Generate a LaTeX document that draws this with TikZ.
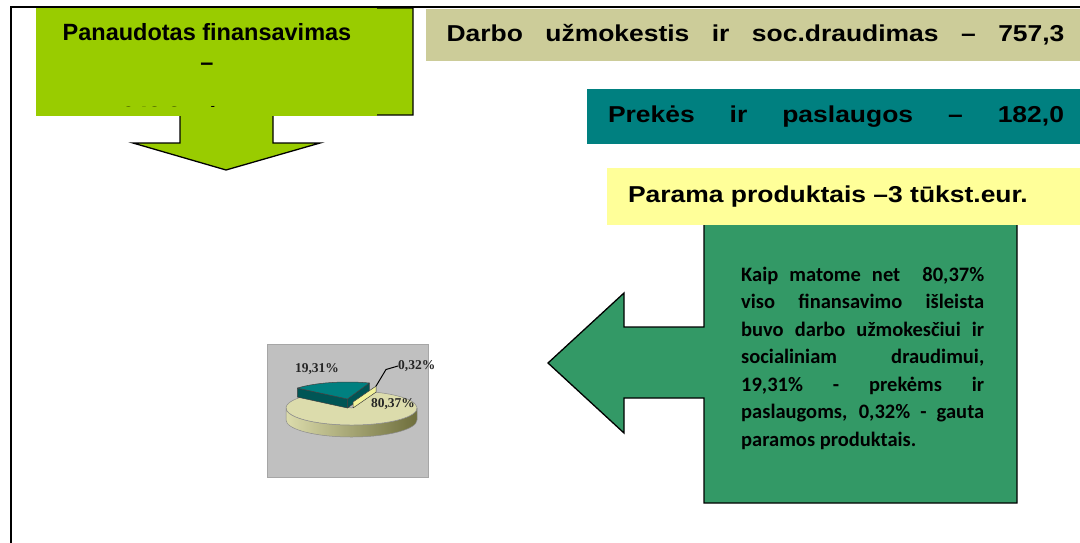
\documentclass[tikz,border=0pt]{standalone}
\usepackage{fontspec}
\setmainfont{Liberation Sans}
\newfontfamily\widesans[FakeStretch=1.15]{Liberation Sans}
\newfontfamily\notefont{Carlito}
\newfontfamily\piefont{Liberation Serif}
\usetikzlibrary{calc}
\definecolor{limegr}{HTML}{99CC00}
\definecolor{tanbox}{HTML}{CCCC99}
\definecolor{tealbox}{HTML}{008080}
\definecolor{paleyel}{HTML}{FFFF99}
\definecolor{seagr}{HTML}{339966}
\definecolor{chartbg}{HTML}{C0C0C0}
\definecolor{pietop}{HTML}{DCDCAC}
\definecolor{pieside}{HTML}{6E6E3C}
\definecolor{tealdark}{HTML}{005555}

\begin{document}
\begin{tikzpicture}[x=1pt, y=-1pt,
    bar/.style={inner sep=0pt, text height=17pt, text depth=5pt,
      font=\widesans\bfseries\fontsize{23}{28}\selectfont},
    outl/.style={draw=black, line width=1.3pt, line join=miter},
    pcut/.style={draw=black!75, line width=0.5pt, line join=round},
    pct/.style={font=\piefont\bfseries\fontsize{13.5}{15}\selectfont, text=black!85, inner sep=0pt}]

\useasboundingbox (0,0) rectangle (1080,542);

% total, with the arrow pointing down
\draw[outl, fill=limegr] (37,8) -- (413,8) -- (413,115) -- (273,115) -- (273,143) -- (320,143)
  -- (226,170) -- (133,143) -- (180,143) -- (180,115) -- (37,115) -- cycle;
\node[fill=limegr, minimum width=341, minimum height=109, inner sep=0pt] (total) at (206.5,61.5) {};
\begin{scope}
  \clip (37,8) rectangle (377,106);
  \node[anchor=north, inner sep=0pt, align=center, font=\bfseries\fontsize{23.5}{30}\selectfont]
    (totaltxt) at (207,23) {Panaudotas finansavimas\\–\\[23pt]942,3 tūkst.eur.};
\end{scope}

% the three parts
\node[bar, fill=tanbox, minimum width=659, minimum height=52] (wages) at (755.5,35)
  {\makebox[618pt]{Darbo\hfill užmokestis\hfill ir\hfill soc.draudimas\hfill –\hfill 757,3}};
\node[bar, fill=tealbox, minimum width=498, minimum height=55] (goods) at (836,116.5)
  {\makebox[456pt]{Prekės\hfill ir\hfill paslaugos\hfill –\hfill 182,0}};

% comment, with the arrow pointing left
\draw[outl, fill=seagr] (704,215) -- (1017,215) -- (1017,503) -- (704,503) -- (704,398) -- (624,398)
  -- (624,433) -- (548,363) -- (624,293) -- (624,327) -- (704,327) -- cycle;
\node[bar, fill=paleyel, minimum width=478, minimum height=57] (aid) at (846,196.5)
  {\makebox[436pt][l]{Parama produktais –3 tūkst.eur.}};

\node[anchor=north west, inner sep=0pt, align=left,
  font=\notefont\bfseries\fontsize{20.5}{27.5}\selectfont] (note) at (741,266.5) {%
  \makebox[243pt][s]{Kaip matome net\ \ 80,37\%}\\
  \makebox[243pt][s]{viso finansavimo išleista}\\
  \makebox[243pt][s]{buvo darbo užmokesčiui ir}\\
  \makebox[243pt][s]{socialiniam draudimui,}\\
  \makebox[243pt][s]{19,31\% - prekėms ir}\\
  \makebox[243pt][s]{paslaugoms, 0,32\% - gauta}\\
  \makebox[243pt][l]{paramos produktais.}};

% pie chart
\node[fill=chartbg, draw=black!35, line width=0.6pt, minimum width=161, minimum height=133,
  inner sep=0pt] (chart) at (347.5,410.5) {};
\coordinate (c) at (351.5,408);
\shade[left color=pietop, right color=pieside] (c) ++(0:65.5 and 17)
  arc[start angle=0, end angle=180, x radius=65.5, y radius=17] -- ++(0,12)
  arc[start angle=180, end angle=0, x radius=65.5, y radius=17] -- cycle;
\draw[pcut, draw=black!45] (c) ++(0:65.5 and 17)
  arc[start angle=0, end angle=180, x radius=65.5, y radius=17] -- ++(0,12)
  arc[start angle=180, end angle=0, x radius=65.5, y radius=17] -- cycle;
\draw[pcut, draw=black!45, fill=pietop] (c) -- ++(-69.35:65.5 and 17)
  arc[start angle=-69.35, end angle=220, x radius=65.5, y radius=17] -- cycle;

\coordinate (t) at (347.5,399);
\draw[pcut, fill=tealdark] (t) -- ++(220:65.5 and 17) -- ++(0,9) -- ($(t)+(0,9)$) -- cycle;
\draw[pcut, fill=tealdark] (t) -- ++(289.5:65.5 and 17) -- ++(0,9) -- ($(t)+(0,9)$) -- cycle;
\draw[pcut, fill=tealbox] (t) -- ++(220:65.5 and 17)
  arc[start angle=220, end angle=289.5, x radius=65.5, y radius=17] -- cycle;

\coordinate (s) at (353,402);
\coordinate (stip) at ($(s)+(290.6:65.5 and 17)$);
\draw[pcut, fill=paleyel!75!tanbox] (s) -- (stip) -- ++(0,6) -- ($(s)+(0,6)$) -- cycle;

\node[pct] (p1) at (317,369) {19,31\%};
\node[pct] (p2) at (393,404) {80,37\%};
\node[pct, anchor=west] (p3) at (398,366) {0,32\%};
\coordinate (lead) at (386,369.5);
\draw[line width=1pt] (stip) -- (lead) -- (p3.west);

% frame
\draw[line width=2.4pt] (11,545) -- (11,7);
\draw[line width=1.5pt] (10,7) -- (1085,7);
\end{tikzpicture}
\end{document}
